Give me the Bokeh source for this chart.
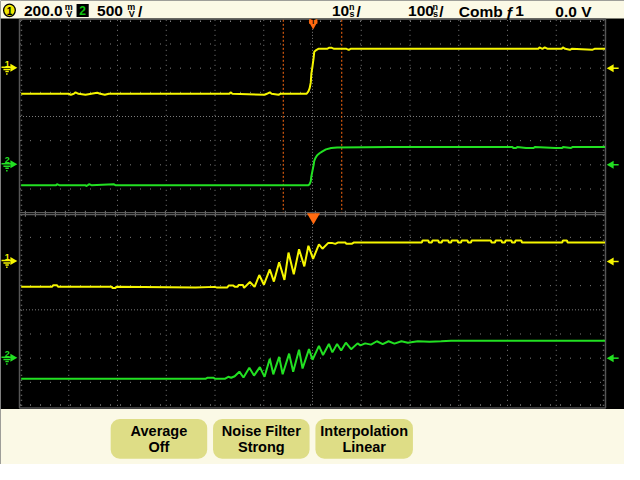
from math import pi
from bokeh.plotting import figure
from bokeh.models import Range1d, BoxAnnotation
from bokeh.core.properties import value
from bokeh.embed import file_html
from bokeh.resources import INLINE

# ---------------- texts ----------------
ch1_scale = "200.0"
ch2_scale = "500"
zoom_timebase = "10"
main_timebase = "100"
trig_mode = "Comb"
trig_source = "1"
trig_level = "0.0 V"
softkey_top = ["Average", "Noise Filter", "Interpolation"]
softkey_bottom = ["Off", "Strong", "Linear"]

# ---------------- data (time in ns, voltage in mV) ----------------
# main window, 100 ns/div
main_ch1 = [(-498, -212), (-417, -212), (-413, -220), (-408, -212), (-405, -200), (-400, -212),
            (-388, -220), (-378, -212), (-368, -204), (-363, -212), (-355, -220), (-348, -212),
            (-142, -212), (-140, -200), (-137, -212), (-82, -220), (-78, -212), (-73, -200),
            (-70, -212), (-58, -220), (-55, -212), (-10, -212), (-7, -192), (-5, -168), (-3, -120),
            (-2, -48), (0, 16), (2, 88), (3, 136), (7, 152), (10, 160), (25, 160), (28, 168),
            (33, 168), (37, 160), (58, 160), (62, 152), (65, 160), (386, 160), (388, 172),
            (393, 160), (397, 172), (402, 160), (426, 160), (428, 172), (432, 160), (440, 152),
            (443, 160), (478, 152), (482, 160), (500, 160)]
main_ch2 = [(-498, -420), (-438, -420), (-437, -400), (-433, -420), (-388, -420), (-387, -440),
            (-384, -420), (-382, -400), (-378, -420), (-340, -400), (-337, -420), (-7, -420),
            (-5, -400), (-3, -340), (-2, -240), (0, -120), (2, 0), (3, 80), (5, 140), (8, 200),
            (12, 240), (17, 280), (23, 320), (32, 350), (42, 360), (133, 370), (342, 370),
            (343, 350), (348, 350), (350, 370), (365, 350), (378, 350), (380, 370), (415, 350),
            (427, 350), (428, 370), (442, 350), (445, 370), (500, 370)]
# zoom window, 10 ns/div
zoom_ch1 = [(-49.8, -208), (-44.5, -208), (-44.3, -196), (-43.7, -196), (-43.5, -208),
            (-34.3, -208), (-34.2, -220), (-33.7, -220), (-33.5, -208),
            (-20.0, -216), (-16.7, -210), (-16.3, -216), (-14.6, -216),
            (-14.3, -198), (-13.6, -198), (-13.3, -208), (-12.8, -208), (-12.6, -194), (-11.9, -194),
            (-11.7, -218), (-10.7, -170), (-9.9, -210), (-9.1, -112), (-8.3, -192), (-7.3, -66),
            (-6.6, -166), (-5.7, -6), (-4.8, -152), (-4.1, 74), (-3.2, -106), (-2.3, 102),
            (-1.4, -40), (-0.7, 130), (0.1, 22), (1.1, 142), (1.7, 106), (2.7, 154), (3.3, 154),
            (3.9, 146), (4.4, 158), (5.6, 158), (5.8, 146), (6.7, 146), (7.1, 158),
            (18.7, 158), (18.8, 174), (19.8, 174), (19.9, 158), (20.4, 158), (20.5, 174),
            (21.5, 174), (21.6, 158), (22.1, 158), (22.2, 174), (23.2, 174), (23.3, 158),
            (23.7, 158), (23.8, 174), (24.8, 174), (24.9, 158), (25.4, 158), (25.5, 174),
            (26.5, 174), (26.6, 158), (27.1, 158), (27.2, 174), (30.5, 174), (30.6, 158),
            (31.2, 158), (31.3, 174), (32.3, 174), (32.4, 158), (32.9, 158), (33.0, 174),
            (34.0, 174), (34.1, 158), (34.6, 158), (34.7, 174), (35.7, 174), (35.8, 158),
            (42.7, 158), (42.8, 174), (43.5, 174), (43.6, 158), (50.0, 158)]
zoom_ch2 = [(-49.8, -426), (-18.3, -426), (-18.0, -406), (-16.9, -406), (-16.7, -426),
            (-15.0, -426), (-14.4, -386), (-13.9, -406), (-13.3, -374), (-12.5, -280),
            (-11.8, -400), (-10.8, -200), (-10.0, -360), (-9.0, -186), (-8.2, -386), (-7.3, -14),
            (-6.7, -334), (-5.7, 26), (-5.1, -334), (-4.0, 94), (-3.3, -280), (-2.3, 174),
            (-1.7, -214), (-0.6, 186), (0.0, -34), (1.1, 254), (1.8, 66), (2.8, 294), (3.4, 120),
            (4.2, 294), (4.9, 160), (5.7, 320), (6.6, 186), (7.7, 306), (8.2, 266), (9.0, 306),
            (10.0, 280), (11.0, 350), (12.0, 290), (13.0, 350), (14.0, 300), (15.2, 350),
            (16.3, 320), (18.0, 350), (20.0, 340), (22.0, 350), (23.7, 360), (50.0, 360)]

YELLOW = "#f6f600"
GREEN = "#22e022"
ORANGE = "#ff6a10"
GRID = "#7c7c7c"
FRAME = "#555555"
CREAM = "#fbf9e6"
KEY = "#dedd86"
FONT = "Liberation Sans"


def Y(v):
    # screen-pixel row (from top) -> data y for decorations
    return 480 - v


p = figure(width=624, height=464, x_range=Range1d(0, 640), y_range=Range1d(0, 480),
           output_backend="svg", toolbar_location=None, min_border=0,
           x_axis_type=None, y_axis_type=None,
           background_fill_color="black", border_fill_color="black", outline_line_color=None)
p.extra_x_ranges = {"main": Range1d(-533.33, 533.33), "zoom": Range1d(-53.333, 53.333)}
p.extra_y_ranges = {"m1": Range1d(-3280, 560), "m2": Range1d(-6200, 3400),
                    "z1": Range1d(-1680, 2160), "z2": Range1d(-2200, 7400)}

# header / footer background (underlay so that all glyph texts draw above)
for top, bottom in [(0, 18.5), (422.5, 480)]:
    p.add_layout(BoxAnnotation(left=0, right=640, top=Y(top), bottom=Y(bottom), fill_color=CREAM,
                               fill_alpha=1, line_color=None, level="underlay"))
key_lr = [(113, 212), (218, 317), (323, 423)]
for l, r in key_lr:
    p.add_layout(BoxAnnotation(left=l, right=r, top=Y(433), bottom=Y(474), fill_color=KEY,
                               fill_alpha=1, line_color=None, border_radius=9, level="underlay"))

# ---------------- graticule ----------------
gx = [70, 120, 170, 220, 270, 370, 420, 470, 520, 570]
p.multi_line(xs=[[x, x] for x in gx], ys=[[Y(20), Y(420)] for _ in gx],
             line_color=GRID, line_width=1, line_dash="1 4")
gy = [45, 70, 95, 145, 170, 195, 245, 270, 295, 345, 370, 395]
p.multi_line(xs=[[20, 620] for _ in gy], ys=[[Y(y), Y(y)] for y in gy],
             line_color=GRID, line_width=1, line_dash="1 9")
# centre lines
p.multi_line(xs=[[320, 320], [20, 620], [20, 620]],
             ys=[[Y(20), Y(420)], [Y(120), Y(120)], [Y(320), Y(320)]],
             line_color=GRID, line_width=1, line_dash="1 2")
# edge ticks
p.multi_line(xs=[[20, 620], [20, 620]], ys=[[Y(21.5), Y(21.5)], [Y(418.5), Y(418.5)]],
             line_color=GRID, line_width=1.5, line_dash="1 9")
p.multi_line(xs=[[21.5, 21.5], [618.5, 618.5]], ys=[[Y(20), Y(420)], [Y(20), Y(420)]],
             line_color=GRID, line_width=1.5, line_dash="1 4")
# separator ticks and double line
p.line(x=[25, 620], y=[Y(220.5), Y(220.5)], line_color=GRID, line_width=6, line_dash="1 9")
p.multi_line(xs=[[19.5, 620.5], [19.5, 620.5]], ys=[[Y(219.5), Y(219.5)], [Y(221.5), Y(221.5)]],
             line_color="#5c5c5c", line_width=1.2)
# frame
p.line(x=[19.5, 620.5, 620.5, 19.5, 19.5], y=[Y(19.5), Y(19.5), Y(421.5), Y(421.5), Y(19.5)],
       line_color=FRAME, line_width=1.5)

# zoom window cursors
p.multi_line(xs=[[290, 290], [350, 350]], ys=[[Y(20), Y(219)], [Y(20), Y(219)]],
             line_color=ORANGE, line_width=1, line_dash="2 2")

# ---------------- waveforms ----------------
def unzip(pairs):
    return [a for a, b in pairs], [b for a, b in pairs]

t, v = unzip(main_ch1)
p.line(t, v, x_range_name="main", y_range_name="m1", line_color=YELLOW, line_width=2)
t, v = unzip(main_ch2)
p.line(t, v, x_range_name="main", y_range_name="m2", line_color=GREEN, line_width=2)
t, v = unzip(zoom_ch1)
p.line(t, v, x_range_name="zoom", y_range_name="z1", line_color=YELLOW, line_width=2)
t, v = unzip(zoom_ch2)
p.line(t, v, x_range_name="zoom", y_range_name="z2", line_color=GREEN, line_width=2)

# ---------------- trigger markers ----------------
p.quad(left=[316.5], right=[325], top=[Y(19.5)], bottom=[Y(24)], fill_color=ORANGE, line_color=None)
p.scatter(x=[320.7], y=[Y(24.5)], marker="inverted_triangle", size=9, fill_color=ORANGE, line_color=None)
p.text(x=[320.7], y=[Y(22)], text=["T"], text_font=value(FONT), text_font_size="7px",
       text_font_style="bold", text_color="black", text_align="center", text_baseline="middle")
p.scatter(x=[321], y=[Y(224)], marker="inverted_triangle", size=13, fill_color=ORANGE, line_color=None)


def txt(x, y, s, size, color="black", align="left", baseline="alphabetic"):
    # y is the wanted baseline row; shift compensates the text-box line height
    px = float(size.replace("px", ""))
    yy = y - 0.3 * px if baseline == "alphabetic" else y
    p.text(x=[x], y=[Y(yy)], text=[s], text_font=value(FONT), text_font_size=size,
           text_font_style="bold", text_color=color, text_align=align, text_baseline=baseline)


# ---------------- channel ground markers ----------------
markers = [(70, YELLOW, "1"), (170, GREEN, "2"), (270, YELLOW, "1"), (370, GREEN, "2")]
for y0, col, lab in markers:
    txt(7, y0 - 2, lab, "9px", col, "center")
    p.multi_line(xs=[[1, 12], [3, 10], [5, 8.5]],
                 ys=[[Y(y0 - 1), Y(y0 - 1)], [Y(y0 + 1.5), Y(y0 + 1.5)], [Y(y0 + 3.5), Y(y0 + 3.5)]],
                 line_color=col, line_width=1.5)
    p.scatter(x=[6.5], y=[Y(y0 + 6)], marker="square", size=1.5, fill_color=col, line_color=None)
    p.scatter(x=[12.5], y=[Y(y0 - 0.5)], marker="triangle", angle=-pi / 2, size=8,
              fill_color=col, line_color=None)
    # right-hand arrow
    p.scatter(x=[626.5], y=[Y(y0)], marker="triangle", angle=pi / 2, size=8,
              fill_color=col, line_color=None)
    p.line(x=[627, 634], y=[Y(y0), Y(y0)], line_color=col, line_width=1.5)

# ---------------- header ----------------
p.ellipse(x=[9.2], y=[Y(10.2)], width=12, height=13, fill_color="#f0e800", line_color="black", line_width=1.3)
txt(9.2, 10.6, "1", "10px", "black", "center", "middle")
p.quad(left=[78], right=[90.5], top=[Y(3.5)], bottom=[Y(17)], fill_color="black", line_color=None)
txt(84.3, 10.5, "2", "12px", "#10c010", "center", "middle")

big = "15.5px"
small = "9px"
hb = 16
txt(24, hb, ch1_scale, big)
txt(66, 9, "m", small); txt(67.5, 16.5, "V", small)
txt(99, hb, ch2_scale, big)
txt(130, 9, "m", small); txt(131.5, 16.5, "V", small)
txt(141, hb, "/", big)
txt(340, hb, zoom_timebase, big)
txt(357.5, 9, "n", small); txt(358, 16.5, "s", small)
txt(365, hb, "/", big)
txt(418, hb, main_timebase, big)
txt(443, 9, "n", small); txt(443.5, 16.5, "s", small)
txt(450, hb, "/", big)
txt(470, hb, trig_mode, big)
txt(518, hb, "ƒ", big)
txt(528, hb, trig_source, big)
txt(569, hb, trig_level, big)

# ---------------- softkey labels ----------------
for (l, r), a, b in zip(key_lr, softkey_top, softkey_bottom):
    txt((l + r) / 2, 450, a, "14.5px", "black", "center")
    txt((l + r) / 2, 466, b, "14.5px", "black", "center")

open("out.html", "w").write(file_html(p, INLINE))
